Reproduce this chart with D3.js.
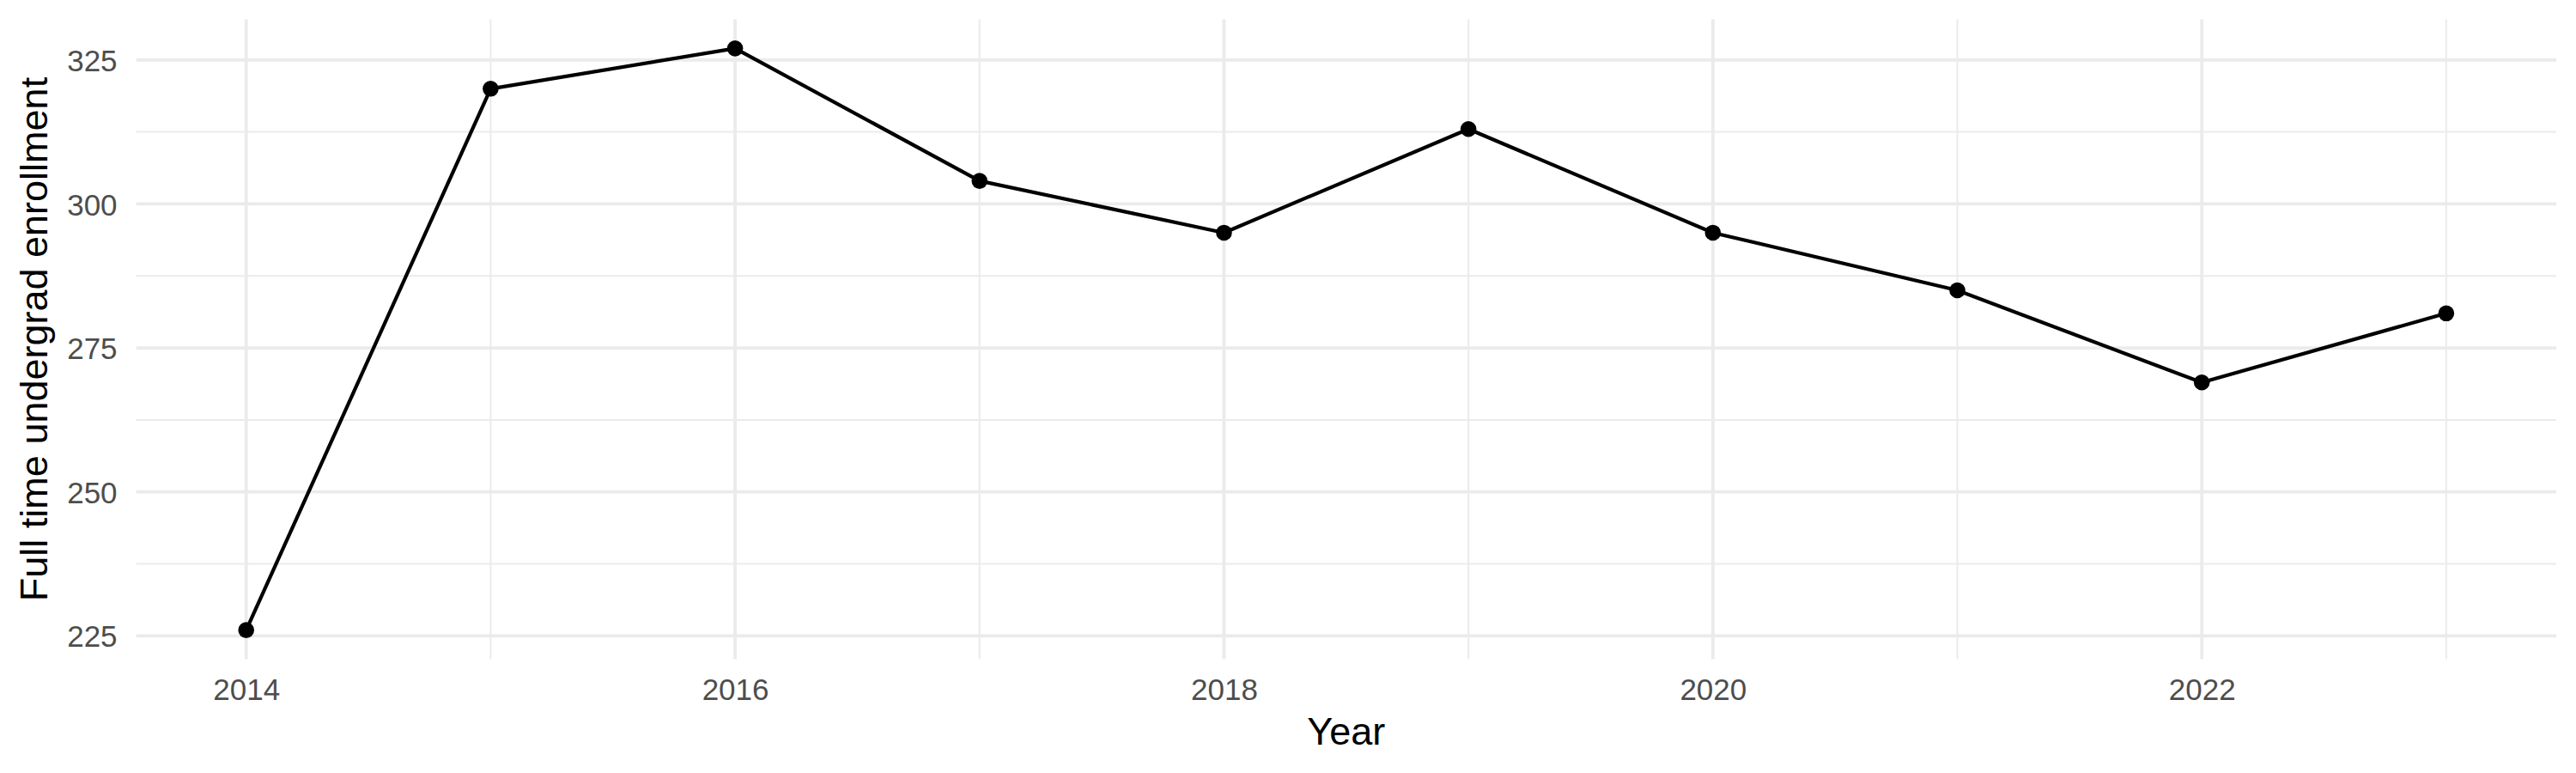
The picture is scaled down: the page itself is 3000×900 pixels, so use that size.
<!DOCTYPE html>
<html>
<head>
<meta charset="utf-8">
<script src="https://cdn.jsdelivr.net/npm/d3@7"></script>
<style>
  body { margin: 0; background: #fff; }
  text { font-family: "Liberation Sans", Arial, sans-serif; }
</style>
</head>
<body>
<div id="chart"></div>
<script>
'use strict'

// data
const years = [2014, 2015, 2016, 2017, 2018, 2019, 2020, 2021, 2022, 2023]
const enrollment = [226, 320, 327, 304, 295, 313, 295, 285, 269, 281]
const xMajorTicks = [2014, 2016, 2018, 2020, 2022]
const xMinorTicks = [2015, 2017, 2019, 2021, 2023]
const yMajorTicks = [225, 250, 275, 300, 325]
const yMinorTicks = [237.5, 262.5, 287.5, 312.5]
const xTitle = 'Year'
const yTitle = 'Full time undergrad enrollment'

function drawChart () {
  const width = 3000
  const height = 900
  const panel = { left: 158.6, right: 2977, top: 22.5, bottom: 767.5 }

  const svg = d3.select('#chart')
    .append('svg')
    .attr('width', width)
    .attr('height', height)

  // ggplot style expansion, 5% each side
  const xExt = d3.extent(years)
  const xPad = (xExt[1] - xExt[0]) * 0.05
  const yExt = d3.extent(enrollment)
  const yPad = (yExt[1] - yExt[0]) * 0.05

  const x = d3.scaleLinear()
    .domain([xExt[0] - xPad, xExt[1] + xPad])
    .range([panel.left, panel.right])
  const y = d3.scaleLinear()
    .domain([yExt[0] - yPad, yExt[1] + yPad])
    .range([panel.bottom, panel.top])

  const grid = svg.append('g').attr('class', 'grid')

  // minor grid first, then major on top
  grid.selectAll('line.y-minor')
    .data(yMinorTicks)
    .enter()
    .append('line')
    .attr('class', 'y-minor')
    .attr('x1', panel.left)
    .attr('x2', panel.right)
    .attr('y1', d => y(d))
    .attr('y2', d => y(d))
    .attr('stroke', '#ebebeb')
    .attr('stroke-width', 2)
  grid.selectAll('line.x-minor')
    .data(xMinorTicks)
    .enter()
    .append('line')
    .attr('class', 'x-minor')
    .attr('x1', d => x(d))
    .attr('x2', d => x(d))
    .attr('y1', panel.top)
    .attr('y2', panel.bottom)
    .attr('stroke', '#ebebeb')
    .attr('stroke-width', 2)
  grid.selectAll('line.y-major')
    .data(yMajorTicks)
    .enter()
    .append('line')
    .attr('class', 'y-major')
    .attr('x1', panel.left)
    .attr('x2', panel.right)
    .attr('y1', d => y(d))
    .attr('y2', d => y(d))
    .attr('stroke', '#ebebeb')
    .attr('stroke-width', 3.8)
  grid.selectAll('line.x-major')
    .data(xMajorTicks)
    .enter()
    .append('line')
    .attr('class', 'x-major')
    .attr('x1', d => x(d))
    .attr('x2', d => x(d))
    .attr('y1', panel.top)
    .attr('y2', panel.bottom)
    .attr('stroke', '#ebebeb')
    .attr('stroke-width', 3.8)

  // axes: labels only, no domain or ticks (theme_minimal)
  const xAxis = svg.append('g')
    .attr('transform', `translate(0,${panel.bottom})`)
    .call(d3.axisBottom(x).tickValues(xMajorTicks).tickFormat(d3.format('d')).tickSize(0).tickPadding(0))
  xAxis.select('.domain').remove()
  xAxis.selectAll('text')
    .attr('y', 47)
    .attr('dy', null)
    .attr('fill', '#4d4d4d')
    .style('font-size', '35px')
    .style('font-family', '"Liberation Sans", Arial, sans-serif')

  const yAxis = svg.append('g')
    .attr('transform', `translate(${panel.left},0)`)
    .call(d3.axisLeft(y).tickValues(yMajorTicks).tickSize(0).tickPadding(0))
  yAxis.select('.domain').remove()
  yAxis.selectAll('text')
    .attr('x', -22)
    .attr('dy', '0.36em')
    .attr('fill', '#4d4d4d')
    .style('font-size', '35px')
    .style('font-family', '"Liberation Sans", Arial, sans-serif')

  // line and points
  const series = years.map((d, i) => ({ year: d, value: enrollment[i] }))
  const line = d3.line()
    .x(d => x(d.year))
    .y(d => y(d.value))
  svg.append('path')
    .datum(series)
    .attr('d', line)
    .attr('fill', 'none')
    .attr('stroke', '#000')
    .attr('stroke-width', 4.2)
    .attr('stroke-linejoin', 'round')
  svg.selectAll('circle.point')
    .data(series)
    .enter()
    .append('circle')
    .attr('class', 'point')
    .attr('cx', d => x(d.year))
    .attr('cy', d => y(d.value))
    .attr('r', 9.3)
    .attr('fill', '#000')

  // axis titles
  svg.append('text')
    .attr('x', (panel.left + panel.right) / 2)
    .attr('y', 867)
    .attr('text-anchor', 'middle')
    .attr('fill', '#000')
    .style('font-size', '45px')
    .text(xTitle)
  svg.append('text')
    .attr('transform', `translate(55,${(panel.top + panel.bottom) / 2}) rotate(-90)`)
    .attr('text-anchor', 'middle')
    .attr('fill', '#000')
    .style('font-size', '45px')
    .text(yTitle)
}

drawChart()
</script>
</body>
</html>
